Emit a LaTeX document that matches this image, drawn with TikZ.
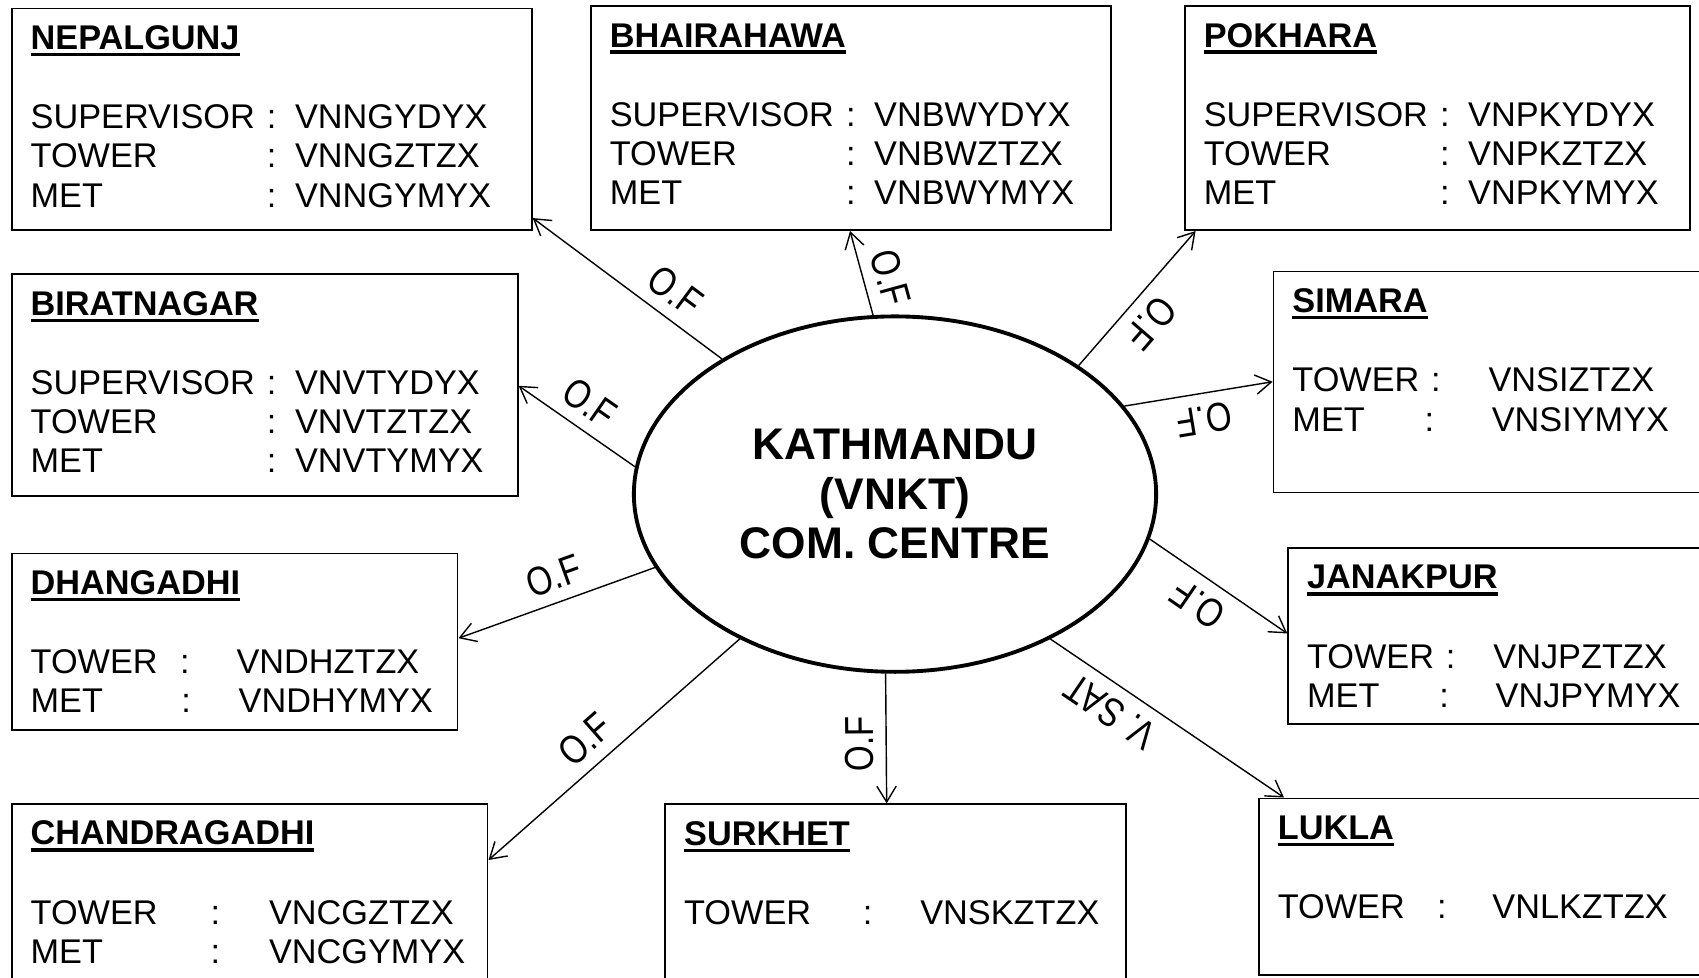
\documentclass[tikz,border=0pt]{standalone}
\usepackage{fontspec}
\setmainfont{Liberation Sans}
\usepackage{graphicx}
\usetikzlibrary{calc,shapes.geometric,arrows.meta}

\newlength\upx
\setlength\upx{0.010835cm}
\newcommand\stitle[1]{\setbox0=\hbox{\bfseries #1}\rlap{\rule[-1.9pt]{\wd0}{0.95pt}}\box0}
\newcommand\srow[4]{\makebox[#1\upx][l]{#3}\makebox[#2\upx][l]{:}#4}
\newcommand\oflabel{\scalebox{0.82}[1]{O.F}}

\begin{document}
\begin{tikzpicture}[x=0.010835cm,y=-0.010835cm,station/.style={draw,line width=0.5pt,anchor=north west,align=left,inner xsep=17.5\upx,inner ysep=0pt,text height=38\upx,font=\fontsize{9.75}{11.12}\selectfont},centre/.style={draw,ellipse,line width=1.1pt,minimum width=482\upx,minimum height=328\upx,inner sep=0pt,align=center,font=\fontsize{12.6}{14.1}\selectfont\bfseries},link/.style={{Straight Barb[length=4.5pt,width=5.5pt]}-,line width=0.4pt},medium/.style={sloped,allow upside down,above,font=\fontsize{11.5}{13}\selectfont}]
  \path[use as bounding box] (0,0) rectangle (1568,902);
  \node[centre] (kathmandu) at (826,456) {KATHMANDU\\(VNKT)\\COM. CENTRE};
  \node[station,text width=445\upx,text depth=166.6\upx] (nepalgunj) at (10,7) {\stitle{NEPALGUNJ}\\[37\upx]
    \srow{218}{26}{SUPERVISOR}{VNNGYDYX}\\
    \srow{218}{26}{TOWER}{VNNGZTZX}\\
    \srow{218}{26}{MET}{VNNGYMYX}};
  \node[station,text width=445\upx,text depth=169\upx] (bhairahawa) at (544.5,4.6) {\stitle{BHAIRAHAWA}\\[37\upx]
    \srow{218}{26}{SUPERVISOR}{VNBWYDYX}\\
    \srow{218}{26}{TOWER}{VNBWZTZX}\\
    \srow{218}{26}{MET}{VNBWYMYX}};
  \node[station,text width=431.3\upx,text depth=169\upx] (pokhara) at (1092.7,4.6) {\stitle{POKHARA}\\[37\upx]
    \srow{218}{26}{SUPERVISOR}{VNPKYDYX}\\
    \srow{218}{26}{TOWER}{VNPKZTZX}\\
    \srow{218}{26}{MET}{VNPKYMYX}};
  \node[station,text width=432\upx,text depth=166.6\upx] (biratnagar) at (10,252.3) {\stitle{BIRATNAGAR}\\[37\upx]
    \srow{218}{26}{SUPERVISOR}{VNVTYDYX}\\
    \srow{218}{26}{TOWER}{VNVTZTZX}\\
    \srow{218}{26}{MET}{VNVTYMYX}};
  \node[station,text width=405\upx,text depth=166\upx] (simara) at (1174.5,249.8) {\stitle{SIMARA}\\[37\upx]
    \srow{128}{53}{TOWER}{VNSIZTZX}\\
    \srow{122}{62}{MET}{VNSIYMYX}};
  \node[station,text width=376.5\upx,text depth=125\upx] (dhangadhi) at (10,510) {\stitle{DHANGADHI}\\[37\upx]
    \srow{138}{52}{TOWER}{VNDHZTZX}\\
    \srow{139}{53}{MET}{VNDHYMYX}};
  \node[station,text width=405\upx,text depth=125\upx] (janakpur) at (1188,504.6) {\stitle{JANAKPUR}\\[37\upx]
    \srow{128}{44}{TOWER}{VNJPZTZX}\\
    \srow{122}{52}{MET}{VNJPYMYX}};
  \node[station,text width=404.2\upx,text depth=200\upx] (chandragadhi) at (10,741) {\stitle{CHANDRAGADHI}\\[37\upx]
    \srow{166}{54}{TOWER}{VNCGZTZX}\\
    \srow{166}{54}{MET}{VNCGYMYX}};
  \node[station,text width=390.2\upx,text depth=200\upx] (surkhet) at (613.1,741.4) {\stitle{SURKHET}\\[37\upx]
    \srow{165}{53}{TOWER}{VNSKZTZX}};
  \node[station,text width=405\upx,text depth=125.2\upx] (lukla) at (1161,736) {\stitle{LUKLA}\\[37\upx]
    \srow{147}{51}{TOWER}{VNLKZTZX}};
  \draw[link] ([yshift=12\upx]nepalgunj.south east) -- (kathmandu.142) node[medium,pos=0.67] {\oflabel};
  \draw[link] ([xshift=240\upx]bhairahawa.south west) -- (kathmandu.97) node[medium,pos=0.64] {\oflabel};
  \draw[link] ([xshift=10.7\upx]pokhara.south west) -- (kathmandu.35) node[medium,pos=0.555] {\oflabel};
  \draw[link] ([yshift=-102.5\upx]simara.north west) -- (kathmandu.21) node[medium,pos=0.49] {\oflabel};
  \draw[link] ([yshift=-80\upx]janakpur.north west) -- (kathmandu.-10) node[medium,pos=0.54] {\oflabel};
  \draw[link] ([xshift=24\upx]lukla.north west) -- (kathmandu.-43) node[medium,pos=0.68] {\scalebox{0.82}[1]{V. SAT}};
  \draw[link] ([xshift=205.2\upx]surkhet.north west) -- (kathmandu.-93) node[medium,pos=0.46] {\oflabel};
  \draw[link] ([yshift=-52.7\upx]chandragadhi.north east) -- (kathmandu.223) node[medium,pos=0.455] {\oflabel};
  \draw[link] ([yshift=-79\upx]dhangadhi.north east) -- (kathmandu.197) node[medium,pos=0.53] {\oflabel};
  \draw[link] ([yshift=-103.7\upx]biratnagar.north east) -- (kathmandu.174) node[medium,pos=0.48] {\oflabel};
\end{tikzpicture}
\end{document}
